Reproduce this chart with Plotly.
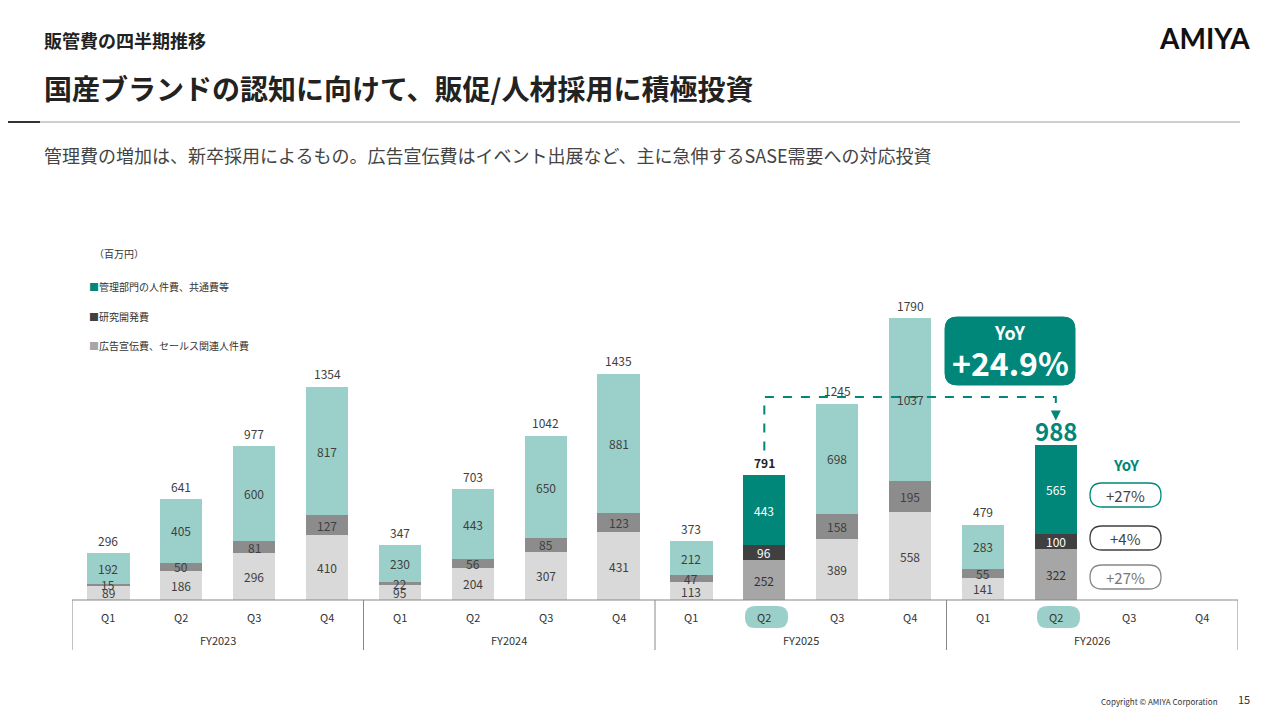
import plotly.graph_objects as go

W, H = 1280, 720
FONT = "Noto Sans CJK JP, Noto Sans, sans-serif"
TEAL = "#00877A"
TEAL_L = "#9BD0CA"
DARK = "#404040"
MID = "#8C8C8C"
LIGHT = "#D9D9D9"
GRAY_HI = "#A6A6A6"
TEXT = "#404040"
OFF = 8  # page body margin

quarters = ["Q1", "Q2", "Q3", "Q4"] * 4
years = ["FY2023", "FY2024", "FY2025", "FY2026"]
# (百万円)
ad_sales = [89, 186, 296, 410, 95, 204, 307, 431, 113, 252, 389, 558, 141, 322, None, None]
rnd = [15, 50, 81, 127, 22, 56, 85, 123, 47, 96, 158, 195, 55, 100, None, None]
admin = [192, 405, 600, 817, 230, 443, 650, 881, 212, 443, 698, 1037, 283, 565, None, None]
# totals as published (rounded separately)
totals = [296, 641, 977, 1354, 347, 703, 1042, 1435, 373, 791, 1245, 1790, 479, 988, None, None]
highlight = {9, 13}

x = list(range(16))
x0, x1 = 72, 1238
ytop, ybase = 285, 600


def px_x(p):
    return (p - OFF) / W


def px_y(p):
    return 1 - (p - OFF) / H


def rounded(xa, ya, xb, yb, r):
    """Rounded rectangle path in paper coords from pixel box."""
    rx, ry = r / W, r / H
    L, R = px_x(xa), px_x(xb)
    T, B = px_y(ya), px_y(yb)
    return (f"M {L+rx},{T} L {R-rx},{T} Q {R},{T} {R},{T-ry} L {R},{B+ry} Q {R},{B} {R-rx},{B} "
            f"L {L+rx},{B} Q {L},{B} {L},{B+ry} L {L},{T-ry} Q {L},{T} {L+rx},{T} Z")


def note(xp, yp, text, size, color, xanchor="center", bold=False):
    return dict(x=px_x(xp), y=px_y(yp), xref="paper", yref="paper", xanchor=xanchor,
                yanchor="middle", text=f"<b>{text}</b>" if bold else text, showarrow=False,
                font=dict(size=size, color=color, family=FONT))


fig = go.Figure()
series = [
    (ad_sales, LIGHT, GRAY_HI),
    (rnd, MID, DARK),
    (admin, TEAL_L, TEAL),
]
for vals, c, ch in series:
    fig.add_trace(go.Bar(
        x=x, y=vals, width=0.58,
        marker=dict(color=[ch if i in highlight else c for i in x], line=dict(width=0)),
        showlegend=False, hoverinfo="skip",
    ))

ann = []
for i in x:
    if ad_sales[i] is None:
        continue
    base = 0
    for k, (vals, _, _) in enumerate(series):
        v = vals[i]
        hi = i in highlight
        col = "white" if hi and k > 0 else TEXT
        if hi and k == 0:
            col = "#333333"
        ann.append(dict(x=i, y=base + v / 2, text=str(v), showarrow=False, yanchor="middle",
                        font=dict(size=12, color=col, family=FONT)))
        base += v
    if i == 13:
        ann.append(dict(x=i, y=base, yshift=14, text="<b>988</b>", showarrow=False,
                        yanchor="middle", font=dict(size=24, color=TEAL, family=FONT)))
    else:
        t = f"<b>{totals[i]}</b>" if i == 9 else str(totals[i])
        ann.append(dict(x=i, y=base, yshift=13, text=t, showarrow=False, yanchor="middle",
                        font=dict(size=12, color=TEXT if i != 9 else "#222", family=FONT)))

# quarter / year table
shapes = []
for i in x:
    if i in highlight:
        shapes.append(dict(type="path", xref="paper", yref="paper", layer="below",
                           path=rounded(745 + (i - 9) / 4 * 292, 606, 788 + (i - 9) / 4 * 292, 628, 10),
                           fillcolor=TEAL_L, line=dict(width=0)))
    ann.append(dict(x=i, y=px_y(617), yref="paper", yanchor="middle", text=quarters[i],
                    showarrow=False, font=dict(size=11, color="#333", family=FONT)))
for j, fy in enumerate(years):
    ann.append(dict(x=j * 4 + 1.5, y=px_y(640), yref="paper", yanchor="middle", text=fy,
                    showarrow=False, font=dict(size=11, color="#333", family=FONT)))
shapes.append(dict(type="line", xref="paper", yref="paper", x0=px_x(x0), x1=px_x(x1),
                   y0=px_y(600), y1=px_y(600), line=dict(color="#888", width=1.2)))
for j in range(5):
    xv = j * 4 - 0.5
    shapes.append(dict(type="line", xref="x", yref="paper", x0=xv, x1=xv,
                       y0=px_y(600), y1=px_y(650), line=dict(color="#888", width=1)))

# dashed connector FY2025 Q2 -> FY2026 Q2
shapes.append(dict(type="path", xref="x", yref="y",
                   path="M 9,950 L 9,1289 L 13,1289 L 13,1160",
                   line=dict(color=TEAL, width=2, dash="dash")))
ann.append(dict(x=13, y=1140, ax=13, ay=1200, xref="x", yref="y", axref="x", ayref="y",
                text="", showarrow=True, arrowhead=2, arrowsize=1, arrowwidth=2,
                arrowcolor=TEAL))

# YoY big box
shapes.append(dict(type="path", xref="paper", yref="paper", path=rounded(945, 317, 1075, 385, 12),
                   fillcolor=TEAL, line=dict(color=TEAL, width=1)))
ann.append(note(1010, 332, "YoY", 18, "white", bold=True))
ann.append(note(1010, 362, "+24.9%", 32, "white", bold=True))

# segment YoY pills
ann.append(note(1126, 464, "YoY", 15, TEAL, bold=True))
for yc, border, txt, tc in [(495, TEAL, "+27%", "#444"), (538, DARK, "+4%", "#444"),
                            (577, "#888", "+27%", "#777")]:
    shapes.append(dict(type="path", xref="paper", yref="paper",
                       path=rounded(1090, yc - 12, 1161, yc + 12, 12), fillcolor="white",
                       line=dict(color=border, width=1.3)))
    ann.append(note(1125, yc, txt, 15, tc))

# legend and unit
ann.append(note(92, 253, "（百万円）", 10, "#333", xanchor="left"))
for yc, c, txt in [(287, TEAL, "管理部門の人件費、共通費等"), (316, DARK, "研究開発費"),
                   (345, GRAY_HI, "広告宣伝費、セールス関連人件費")]:
    ann.append(note(87, yc, f"<span style='color:{c}'>■</span>{txt}", 10, "#333", xanchor="left"))

# header
ann += [
    note(42, 40, "販管費の四半期推移", 18, "#222", xanchor="left", bold=True),
    note(42, 88, "国産ブランドの認知に向けて、販促/人材採用に積極投資", 28, "#222",
         xanchor="left", bold=True),
    note(42, 155, "管理費の増加は、新卒採用によるもの。広告宣伝費はイベント出展など、主に急伸するSASE需要への対応投資",
         18, "#444", xanchor="left"),
    dict(x=px_x(1252), y=px_y(38), xref="paper", yref="paper", xanchor="right", yanchor="middle",
         text="<b>AMIYA</b>", showarrow=False, font=dict(size=28, color="#111", family="Lato, sans-serif")),
    note(1220, 701, "Copyright © AMIYA Corporation", 8, "#333", xanchor="right"),
    note(1252, 699, "15", 11, "#333", xanchor="right"),
]
shapes.append(dict(type="line", xref="paper", yref="paper", x0=0, x1=px_x(1240),
                   y0=px_y(122), y1=px_y(122), line=dict(color="#BFBFBF", width=1.5)))
shapes.append(dict(type="line", xref="paper", yref="paper", x0=0, x1=px_x(40),
                   y0=px_y(122), y1=px_y(122), line=dict(color="#333", width=2)))

fig.update_layout(
    width=W, height=H, barmode="stack", bargap=0.4,
    paper_bgcolor="white", plot_bgcolor="white",
    margin=dict(l=0, r=0, t=0, b=0),
    xaxis=dict(domain=[px_x(x0), px_x(x1)], range=[-0.5, 15.5], visible=False, fixedrange=True),
    yaxis=dict(domain=[px_y(ybase), px_y(ytop)], range=[0, 2000], visible=False, fixedrange=True),
    annotations=ann, shapes=shapes, font=dict(family=FONT),
)
fig.write_html("out.html")
